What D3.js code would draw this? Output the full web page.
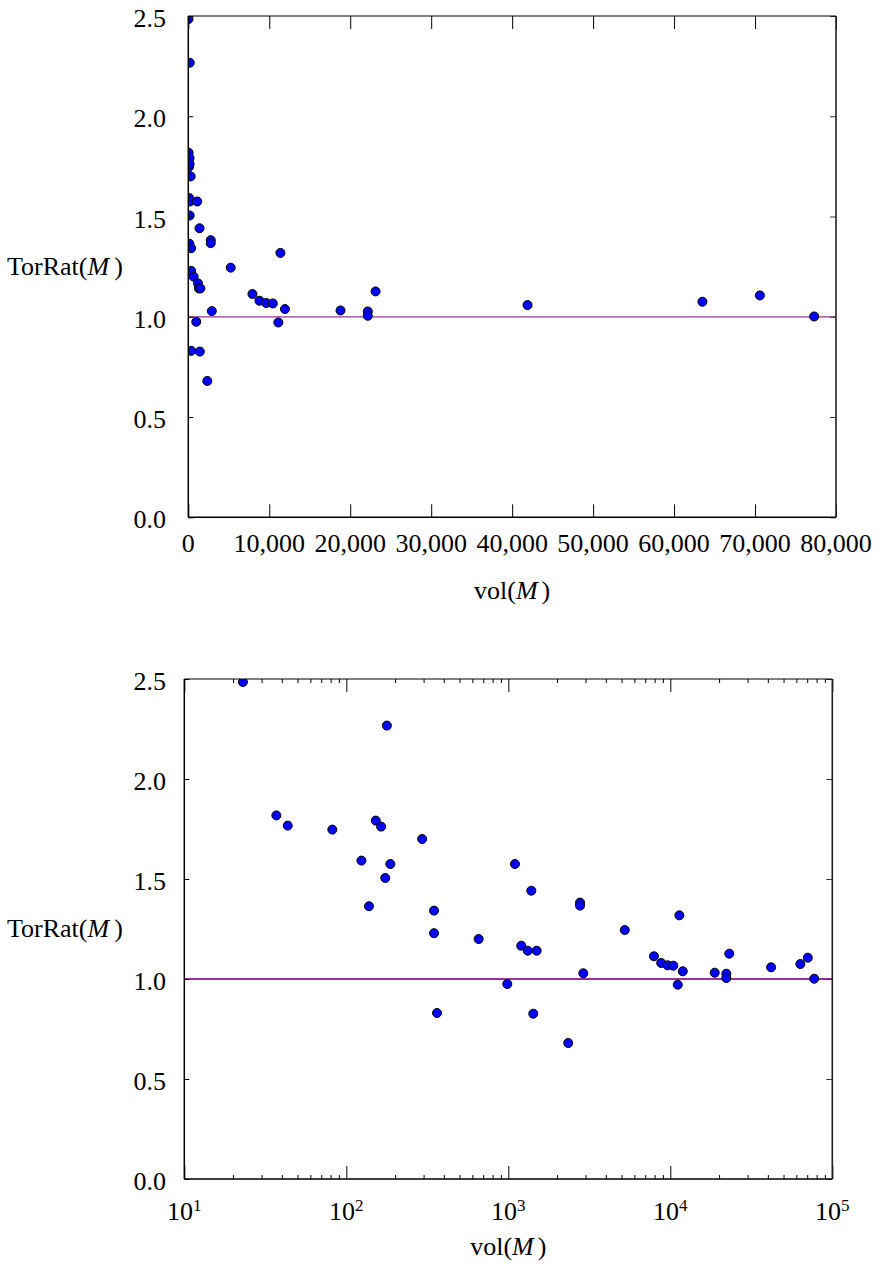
<!DOCTYPE html>
<html>
<head>
<meta charset="utf-8">
<script src="https://cdn.jsdelivr.net/npm/d3@7"></script>
<style>
  html, body { margin: 0; padding: 0; background: #fff; }
  svg { display: block; font-family: "Liberation Serif", "Times New Roman", serif; }
  svg text { font-family: "Liberation Serif", "Times New Roman", serif; }
</style>
</head>
<body>
<svg id="chart" width="880" height="1267"></svg>
<script>
// ---- data ----
const volumes = [23, 37, 43.5, 82, 124, 138, 152, 164, 174, 178, 187, 294, 348, 348, 363, 656, 986,
  1099, 1202, 1318, 1387, 1426, 1497, 2344, 2773, 2773, 2904, 5236, 7925, 8790, 9630, 10440,
  11120, 11380, 11940, 18800, 22170, 22170, 23130, 41900, 63500, 70600, 77300];
const torRat = [2.485, 1.818, 1.767, 1.747, 1.592, 1.364, 1.792, 1.762, 1.505, 2.267, 1.575, 1.700, 1.342, 1.229, 0.830, 1.200, 0.975,
  1.575, 1.1665, 1.1415, 1.4415, 0.8265, 1.1415, 0.680, 1.382, 1.367, 1.0285, 1.245, 1.1135, 1.080, 1.0685, 1.0665,
  0.9715, 1.3185, 1.0385, 1.0315, 1.0265, 1.005, 1.1265, 1.0585, 1.075, 1.1065, 1.0015];
const yTicks = [0, 0.5, 1.0, 1.5, 2.0, 2.5];
const linTicks = [0, 10000, 20000, 30000, 40000, 50000, 60000, 70000, 80000];
const logTicks = [10, 100, 1000, 10000, 100000];
const refValue = 1.0;

const points = volumes.map((v, i) => ({ v, r: torRat[i] }));
const svg = d3.select("#chart");
const FS = 26;
const FF = "Liberation Serif";

function panel(opts) {
  const { left, right, top, bottom, xScale, isLog, lineW, id } = opts;
  const g = svg.append("g");
  const y = d3.scaleLinear().domain([0, 2.5]).range([bottom, top]);

  g.append("clipPath").attr("id", id).append("rect")
    .attr("x", left).attr("y", top).attr("width", right - left).attr("height", bottom - top);

  // reference line
  g.append("line")
    .attr("x1", left).attr("x2", right)
    .attr("y1", y(refValue)).attr("y2", y(refValue))
    .attr("stroke", "#993399").attr("stroke-width", lineW);

  // points
  g.append("g").attr("clip-path", `url(#${id})`)
    .selectAll("circle").data(points).join("circle")
    .attr("cx", d => xScale(d.v)).attr("cy", d => y(d.r))
    .attr("r", 4.5).attr("fill", "#0000ff").attr("stroke", "#000").attr("stroke-width", 1);

  // y axes
  const yl = d3.axisLeft(y).tickValues(yTicks).tickSize(-5).tickFormat(d3.format(".1f")).tickPadding(0);
  const ya = g.append("g").attr("transform", `translate(${left},0)`).call(yl);
  ya.attr("font-family", FF);
  ya.select(".domain").remove();
  ya.selectAll(".tick line").attr("stroke", "#000");
  ya.selectAll(".tick text").attr("x", -(left - 166)).attr("dy", null).attr("y", 10.5)
    .attr("font-size", FS).attr("font-family", FF).attr("fill", "#000").attr("text-anchor", "end");
  const yr = d3.axisRight(y).tickValues(yTicks).tickSize(-6).tickFormat("");
  const yra = g.append("g").attr("transform", `translate(${right},0)`).call(yr);
  yra.select(".domain").remove();
  yra.selectAll(".tick line").attr("stroke", "#333");

  // x axes
  let minor = [];
  if (isLog) {
    for (let e = 1; e < 5; e++) for (let k = 2; k <= 9; k++) minor.push(k * Math.pow(10, e));
  }
  const majorVals = isLog ? logTicks : linTicks;
  const xb = d3.axisBottom(xScale).tickValues(majorVals).tickSize(-13).tickFormat("");
  const xba = g.append("g").attr("transform", `translate(0,${bottom})`).call(xb);
  xba.select(".domain").remove();
  xba.selectAll(".tick line").attr("stroke", "#000");
  const xt = d3.axisTop(xScale).tickValues(majorVals).tickSize(-13).tickFormat("");
  const xta = g.append("g").attr("transform", `translate(0,${top})`).call(xt);
  xta.select(".domain").remove();
  xta.selectAll(".tick line").attr("stroke", "#000");
  if (isLog) {
    const mb = g.append("g").attr("transform", `translate(0,${bottom})`)
      .call(d3.axisBottom(xScale).tickValues(minor).tickSize(-4).tickFormat(""));
    mb.select(".domain").remove();
    mb.selectAll(".tick line").attr("stroke", "#000");
    const mt = g.append("g").attr("transform", `translate(0,${top})`)
      .call(d3.axisTop(xScale).tickValues(minor).tickSize(-4).tickFormat(""));
    mt.select(".domain").remove();
    mt.selectAll(".tick line").attr("stroke", "#000");
  }

  // frame
  g.append("line").attr("x1", left).attr("x2", left).attr("y1", top).attr("y2", bottom).attr("stroke", "#000").attr("stroke-width", 1.5);
  g.append("line").attr("x1", left).attr("x2", right).attr("y1", bottom).attr("y2", bottom).attr("stroke", "#000").attr("stroke-width", 1.5);
  g.append("line").attr("x1", left).attr("x2", right).attr("y1", top).attr("y2", top).attr("stroke", "#000").attr("stroke-width", 1.2);
  g.append("line").attr("x1", right).attr("x2", right).attr("y1", top).attr("y2", bottom).attr("stroke", "#222").attr("stroke-width", 1.6);

  // x tick labels
  const lab = g.append("g").attr("font-family", FF);
  if (isLog) {
    logTicks.forEach(v => {
      const t = lab.append("text").attr("x", xScale(v)).attr("y", bottom + 40.5)
        .attr("text-anchor", "middle").attr("font-size", FS).attr("font-family", FF).attr("fill", "#000");
      t.append("tspan").text("10");
      t.append("tspan").attr("dy", -8.5).attr("font-size", 17).text(String(Math.round(Math.log10(v))));
    });
  } else {
    const fmt = d3.format(",");
    linTicks.forEach(v => {
      lab.append("text").attr("x", xScale(v)).attr("y", bottom + 35)
        .attr("text-anchor", "middle").attr("font-size", FS).attr("font-family", FF).attr("fill", "#000").text(fmt(v));
    });
  }

  // axis titles
  const xtl = g.append("text").attr("x", (left + right) / 2).attr("y", opts.xTitleY)
    .attr("text-anchor", "middle").attr("font-size", FS).attr("font-family", FF).attr("fill", "#000");
  xtl.append("tspan").text("vol(");
  xtl.append("tspan").attr("font-style", "italic").text("M");
  xtl.append("tspan").attr("dx", 4).text(")");

  const ytl = g.append("text").attr("x", 7).attr("y", (top + bottom) / 2 + 8)
    .attr("text-anchor", "start").attr("font-size", FS).attr("font-family", FF).attr("fill", "#000");
  ytl.append("tspan").text("TorRat(");
  ytl.append("tspan").attr("font-style", "italic").text("M");
  ytl.append("tspan").attr("dx", 5).text(")");
}

// top panel: linear x
const x1 = d3.scaleLinear().domain([0, 80000]).range([188.3, 836]);
panel({ left: 188.3, right: 836, top: 16, bottom: 517.3, xScale: x1, isLog: false, lineW: 1.3, id: "clipTop", xTitleY: 599 });

// bottom panel: log x
const x2 = d3.scaleLog().domain([10, 100000]).range([184.3, 832.3]);
panel({ left: 184.3, right: 832.3, top: 679, bottom: 1179, xScale: x2, isLog: true, lineW: 2, id: "clipBot", xTitleY: 1255 });
</script>
</body>
</html>
